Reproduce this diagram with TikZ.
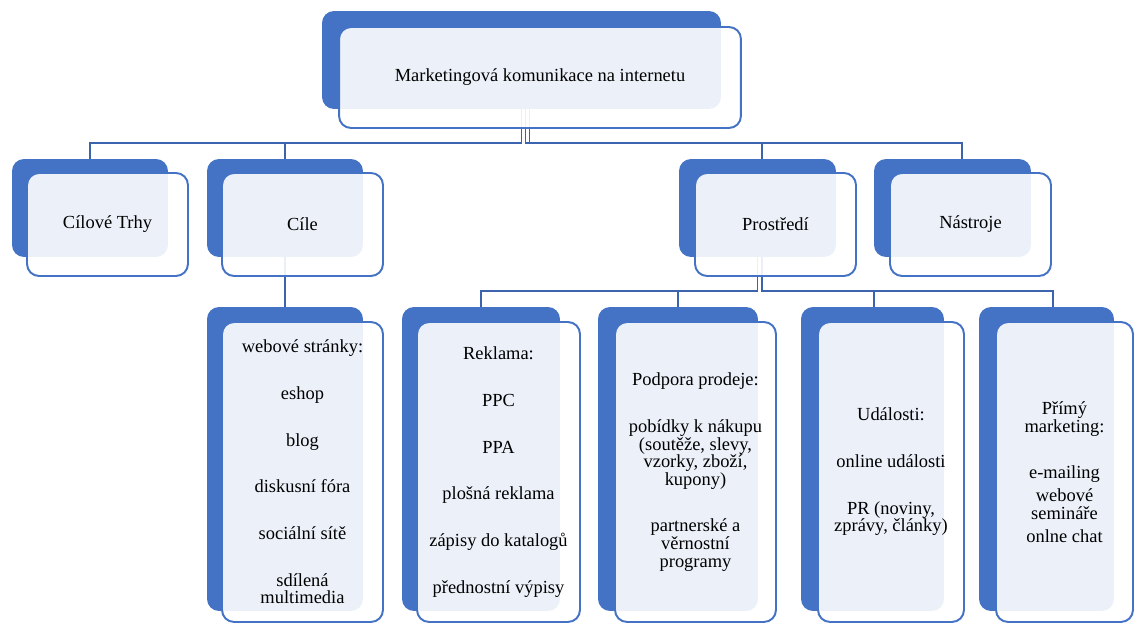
\documentclass[tikz,border=0pt]{standalone}
\usepackage{fontspec}
\setmainfont{Liberation Serif}
\usepackage{tikz}
\usetikzlibrary{arrows}
\usepackage{xcolor}
\definecolor{smblue}{HTML}{4472C4}
\definecolor{smline}{HTML}{3C64AE}
\newcommand{\itemgap}{\\[16.6pt]}

\tikzset{
  backbox/.style={fill=smblue, rounded corners=0.24cm, inner sep=0pt, outer sep=0pt},
  frontbox/.style={draw=smblue, line width=1.1pt, fill=white, fill opacity=0.9, text opacity=1,
    rounded corners=0.24cm, inner sep=0pt, outer sep=0pt, align=center,
    font=\fontsize{10.5}{10}\selectfont},
  conn/.style={draw=smline, line width=1.1pt}
}

\begin{document}
\begin{tikzpicture}[x=0.02cm, y=-0.02cm]
     \useasboundingbox (0,0) rectangle (1137,624);
     % blue back boxes
     \node[backbox, minimum width=7.98cm, minimum height=1.96cm] (topB) at (521.5,60) {};
     \node[backbox, minimum width=3.12cm, minimum height=1.96cm] (cilB) at (90,208) {};
     \node[backbox, minimum width=3.12cm, minimum height=1.96cm] (cileB) at (285,208) {};
     \node[backbox, minimum width=3.14cm, minimum height=1.96cm] (proB) at (757.5,208) {};
     \node[backbox, minimum width=3.14cm, minimum height=1.96cm] (nasB) at (952.5,208) {};
     \node[backbox, minimum width=3.12cm, minimum height=6.08cm] (webB) at (285,459) {};
     \node[backbox, minimum width=3.16cm, minimum height=6.08cm] (rekB) at (481,459) {};
     \node[backbox, minimum width=3.20cm, minimum height=6.08cm] (podB) at (678,459) {};
     \node[backbox, minimum width=2.86cm, minimum height=6.08cm] (udaB) at (872.5,459) {};
     \node[backbox, minimum width=2.70cm, minimum height=6.08cm] (priB) at (1046.5,459) {};
     % connectors
     \draw[conn] (topB.south) -- ++(0,34) -| (cilB.north);
     \draw[conn] (topB.south) -- ++(0,34) -| (cileB.north);
     \draw[conn] ([xshift=0.08cm]topB.south) -- ++(0,34) -| ([xshift=0.09cm]proB.north);
     \draw[conn] ([xshift=0.16cm]topB.south) -- ++(0,34) -| ([xshift=0.19cm]nasB.north);
     \draw[conn] (cileB.south) -- (webB.north);
     \draw[conn] (proB.south) -- ++(0,34) -| (rekB.north);
     \draw[conn] (proB.south) -- ++(0,34) -| (podB.north);
     \draw[conn] ([xshift=0.09cm]proB.south) -- ++(0,34) -| ([xshift=0.03cm]udaB.north);
     \draw[conn] ([xshift=0.09cm]proB.south) -- ++(0,34) -| ([xshift=0.13cm]priB.north);
     % front boxes with text
     \node[frontbox, minimum width=8.04cm, minimum height=2.02cm] (top) at (540,77.5)
          {Marketingová komunikace na internetu};
     \node[frontbox, minimum width=3.22cm, minimum height=2.06cm] (cil) at (107.5,224.5) {Cílové Trhy};
     \node[frontbox, minimum width=3.22cm, minimum height=2.06cm] (cile) at (302.5,224.5) {Cíle};
     \node[frontbox, minimum width=3.22cm, minimum height=2.06cm] (pro) at (775.5,224.5) {Prostředí};
     \node[frontbox, minimum width=3.22cm, minimum height=2.06cm] (nas) at (970.5,224.5) {Nástroje};
     \node[frontbox, minimum width=3.22cm, minimum height=6cm] (web) at (302.5,472)
          {webové stránky:\itemgap eshop\itemgap blog\itemgap diskusní fóra\itemgap
           sociální sítě\itemgap sdílená\\multimedia};
     \node[frontbox, minimum width=3.26cm, minimum height=6cm] (rek) at (498.5,472)
          {Reklama:\itemgap PPC\itemgap PPA\itemgap plošná reklama\itemgap
           zápisy do katalogů\itemgap přednostní výpisy};
     \node[frontbox, minimum width=3.22cm, minimum height=6cm] (pod) at (695.5,472)
          {Podpora prodeje:\itemgap pobídky k nákupu\\(soutěže, slevy,\\vzorky, zboží,\\kupony)\itemgap
           partnerské a\\věrnostní\\programy};
     \node[frontbox, minimum width=2.92cm, minimum height=6cm] (uda) at (891,472)
          {Události:\itemgap online události\itemgap PR (noviny,\\zprávy, články)};
     \node[frontbox, minimum width=2.74cm, minimum height=6cm] (pri) at (1064.5,472)
          {Přímý\\marketing:\itemgap e-mailing\\[3pt]webové\\semináře\\[3pt]onlne chat};
\end{tikzpicture}
\end{document}
